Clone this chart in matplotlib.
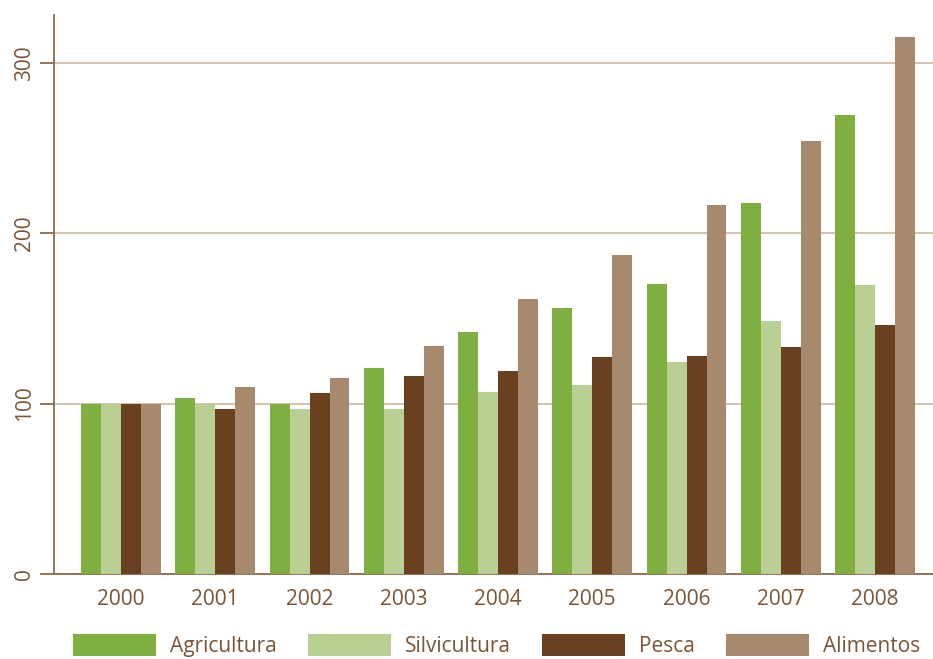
import matplotlib
matplotlib.use("Agg")
import numpy as np
import matplotlib.pyplot as plt

anos = ["2000", "2001", "2002", "2003", "2004", "2005", "2006", "2007", "2008"]
agricultura = [100, 103.3, 100, 121, 142, 156, 170, 218, 269.5]
silvicultura = [100, 100, 97, 97, 107, 111, 124.5, 148.6, 169.7]
pesca = [100, 97, 106, 116, 119, 127.5, 128, 133.3, 146.2]
alimentos = [100, 110, 115, 134, 161.5, 187.3, 216.7, 254, 315.3]

series = [
    ("Agricultura", agricultura, "#7fae41"),
    ("Silvicultura", silvicultura, "#b9cf94"),
    ("Pesca", pesca, "#6a4120"),
    ("Alimentos", alimentos, "#a78a6e"),
]

plt.rcParams["font.family"] = ["Open Sans", "DejaVu Sans"]
texto = "#7a5535"
eje = "#8b6a4e"

fig = plt.figure(figsize=(9.33, 6.59), dpi=100)
ax = fig.add_axes([0.058, 0.129, 0.942, 0.848])

x = np.arange(len(anos))
ancho = 0.212
for i, (nombre, valores, color) in enumerate(series):
    ax.bar(x + (i - 1.5) * ancho, valores, ancho, color=color, label=nombre, zorder=3)

ax.set_xlim(-0.71, 8.615)
ax.set_ylim(0, 328)
ax.set_yticks([0, 100, 200, 300])
ax.set_yticklabels(["0", "100", "200", "300"], rotation=90, va="center")
ax.set_xticks(x)
ax.set_xticklabels(anos)
ax.yaxis.grid(True, color="#cdb8a3", linewidth=1.2, zorder=0)

for lado in ["top", "right"]:
    ax.spines[lado].set_visible(False)
for lado in ["left", "bottom"]:
    ax.spines[lado].set_color(eje)
    ax.spines[lado].set_linewidth(1.3)

ax.tick_params(axis="y", length=10, width=1.3, color=eje, labelcolor=texto, labelsize=15, pad=4)
ax.tick_params(axis="x", length=0, labelcolor=texto, labelsize=15, pad=11)

fig.legend(loc="lower left", bbox_to_anchor=(0.058, -0.026), ncol=4, frameon=False,
           fontsize=15, labelcolor=texto, handlelength=4.0, handleheight=1.25,
           handletextpad=0.65, columnspacing=1.5)

fig.savefig("out.png", dpi=100)
